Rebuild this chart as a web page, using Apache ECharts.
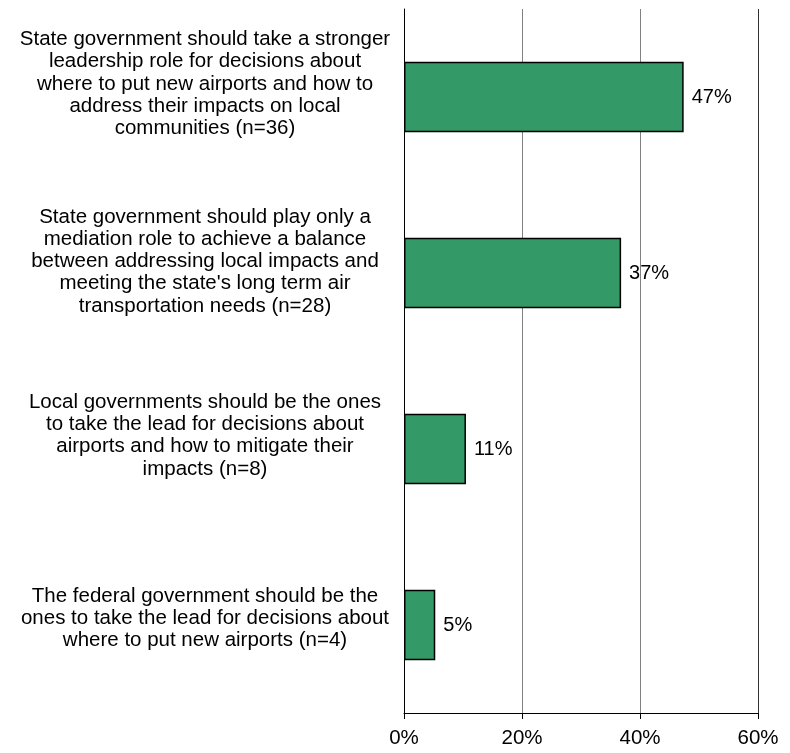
<!DOCTYPE html>
<html>
<head>
<meta charset="utf-8">
<script src="https://cdn.jsdelivr.net/npm/echarts@6/dist/echarts.min.js"></script>
<style>html,body{margin:0;padding:0;background:#fff}#c{width:790px;height:753px}</style>
</head>
<body>
<div id="c"></div>
<script>
const categories = [
  "State government should take a stronger\nleadership role for decisions about\nwhere to put new airports and how to\naddress their impacts on local\ncommunities (n=36)",
  "State government should play only a\nmediation role to achieve a balance\nbetween addressing local impacts and\nmeeting the state's long term air\ntransportation needs (n=28)",
  "Local governments should be the ones\nto take the lead for decisions about\nairports and how to mitigate their\nimpacts (n=8)",
  "The federal government should be the\nones to take the lead for decisions about\nwhere to put new airports (n=4)"
];
const values = [47.4, 36.8, 10.5, 5.3];
const xTicks = [0, 20, 40, 60];

const FONT = "'Liberation Sans', Arial, sans-serif";
const chart = echarts.init(document.getElementById('c'));
chart.setOption({
  animation: false,
  backgroundColor: '#fff',
  grid: { left: 404, right: 32, top: 9, bottom: 40, containLabel: false, outerBoundsMode: 'none' },
  xAxis: {
    type: 'value', min: xTicks[0], max: xTicks[xTicks.length - 1], interval: 20,
    axisLine: { show: true, lineStyle: { color: '#000', width: 1 } },
    axisTick: { show: true, length: 6, lineStyle: { color: '#000' } },
    axisLabel: { color: '#000', fontSize: 20.5, fontFamily: FONT, margin: 15, formatter: v => v + '%' },
    splitLine: { show: true, lineStyle: { color: ['#000', '#808080', '#808080', '#333'], width: 1 } }
  },
  yAxis: {
    type: 'category', inverse: true,
    data: categories,
    axisLine: { show: true, lineStyle: { color: '#000', width: 1 } },
    axisTick: { show: false },
    axisLabel: {
      color: '#000', fontSize: 20.5, lineHeight: 22.3, fontFamily: FONT, align: 'center', margin: 199, interval: 0,
      formatter: (v, i) => v + '\n{s' + i + '| }',
      rich: {
        s0: { lineHeight: 26, fontSize: 4 },
        s1: { lineHeight: 23, fontSize: 4 },
        s2: { lineHeight: 27, fontSize: 4 },
        s3: { lineHeight: 13, fontSize: 4 }
      }
    }
  },
  series: [{
    type: 'bar', data: values, barWidth: '40%',
    itemStyle: { color: '#339966', borderColor: '#000', borderWidth: 1.5 },
    label: { show: true, position: 'right', distance: 8, color: '#000', fontSize: 20, fontFamily: FONT,
      formatter: p => Math.round(p.value) + '%' }
  }]
});
</script>
</body>
</html>
